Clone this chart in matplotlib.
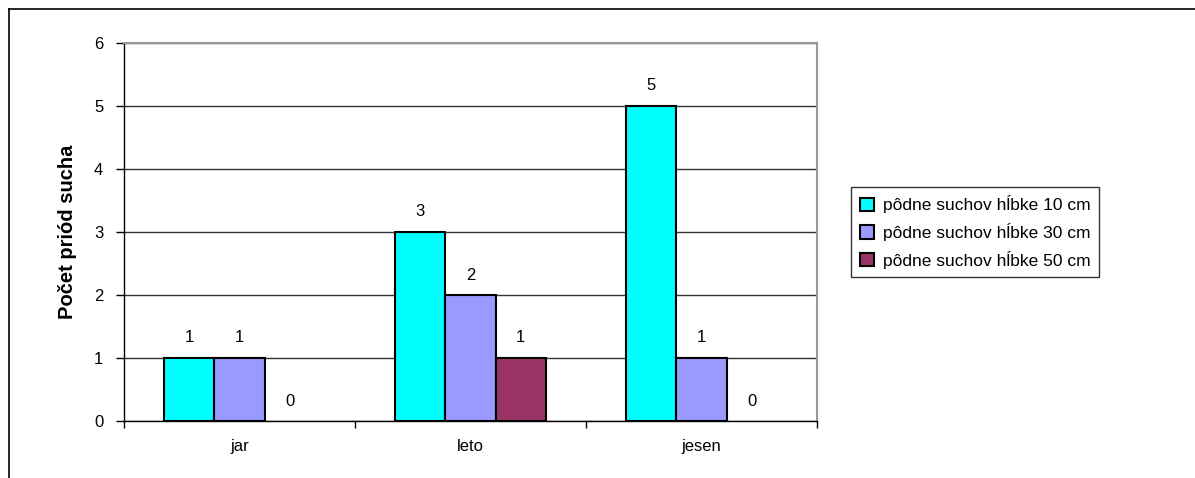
import matplotlib
matplotlib.use("Agg")
import matplotlib.pyplot as plt
import numpy as np

plt.rcParams['font.family'] = ['Liberation Sans', 'DejaVu Sans']

# údaje z grafu
seasons = ["jar", "leto", "jesen"]
series_names = ["pôdne suchov hĺbke 10 cm",
                "pôdne suchov hĺbke 30 cm",
                "pôdne suchov hĺbke 50 cm"]
d10 = [1, 3, 5]
d30 = [1, 2, 1]
d50 = [0, 1, 0]
colors = ["#00FFFF", "#9999FF", "#993366"]

fig = plt.figure(figsize=(11.95, 4.78), dpi=100)
ax = fig.add_axes([124/1195, 1-421/478, (817-124)/1195, (421-43)/478])

x = np.arange(len(seasons))
w = 0.217
all_bars = []
for i, (vals, name, col) in enumerate(zip([d10, d30, d50], series_names, colors)):
    bars = ax.bar(x + (i-1)*w, vals, w, color=col, edgecolor="black", linewidth=1.5,
                  label=name, zorder=3)
    ax.bar_label(bars, padding=9, fontsize=12)
    all_bars.append(bars)

ax.set_xlim(-0.5, 2.5)
ax.set_ylim(0, 6)
ax.set_yticks(range(7))
ax.set_xticks(x)
ax.set_xticklabels(seasons, fontsize=12)
ax.set_xticks([-0.5, 0.5, 1.5, 2.5], minor=True)
ax.tick_params(axis='x', which='major', length=0, pad=13)
ax.tick_params(axis='x', which='minor', length=5, direction='out', width=1)
ax.tick_params(axis='y', length=6, width=1, pad=9, labelsize=12)
ax.yaxis.grid(True, color="#333333", linewidth=1, zorder=0)
ax.set_axisbelow(True)
for s in ["left", "bottom"]:
    ax.spines[s].set_color("black")
    ax.spines[s].set_linewidth(1)
for s in ["top", "right"]:
    ax.spines[s].set_color("#999999")
    ax.spines[s].set_linewidth(1.5)

ax.set_ylabel("Počet priód sucha", fontsize=14.5, fontweight="bold", labelpad=12)

leg = ax.legend(loc="center left", bbox_to_anchor=(1.037, 0.5), fontsize=12.5,
                frameon=True, fancybox=False, edgecolor="black", handlelength=0.8,
                handleheight=0.8, handletextpad=0.5, borderpad=0.5, labelspacing=0.55)
leg.get_frame().set_linewidth(1)

# nulové stĺpce bez obrysu (až po legende)
for bars in all_bars:
    for b in bars:
        if b.get_height() == 0:
            b.set_linewidth(0)

# rámik okolo grafu
fig.add_artist(plt.Line2D([9/1195, 9/1195], [0, 1-9/478], color="black", lw=1.2))
fig.add_artist(plt.Line2D([9/1195, 1], [1-9/478, 1-9/478], color="black", lw=1.2))

fig.savefig("out.png", dpi=100)
